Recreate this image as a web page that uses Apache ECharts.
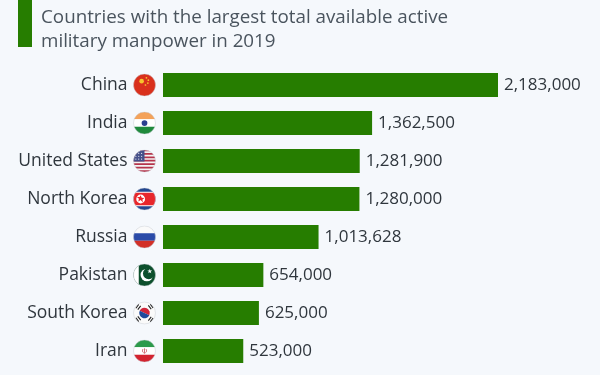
<!DOCTYPE html>
<html>
<head>
<meta charset="utf-8">
<style>
html, body { margin: 0; padding: 0; background: #f5f8fc; }
#chart { width: 600px; height: 375px; }
</style>
<script src="https://cdn.jsdelivr.net/npm/echarts@6/dist/echarts.min.js"></script>
</head>
<body>
<div id="chart"></div>
<script>
var countries = ['China', 'India', 'United States', 'North Korea', 'Russia', 'Pakistan', 'South Korea', 'Iran'];
var manpower = [2183000, 1362500, 1281900, 1280000, 1013628, 654000, 625000, 523000];
var flagKeys = ['cn', 'in', 'us', 'kp', 'ru', 'pk', 'kr', 'ir'];

var titleText = 'Countries with the largest total available active\nmilitary manpower in 2019';
var green = '#267d00';

// little round flags, used as images in the axis labels
function flagSvg(inner) {
	var svg = '<svg xmlns="http://www.w3.org/2000/svg" width="46" height="46" viewBox="0 0 24 24">' +
		'<defs><clipPath id="c"><circle cx="12" cy="12" r="11.5"/></clipPath></defs>' +
		'<g clip-path="url(#c)">' + inner + '</g>' +
		'<circle cx="12" cy="12" r="11.5" fill="none" stroke="#c9ccd2" stroke-width="0.5"/></svg>';
	return 'data:image/svg+xml;charset=utf-8,' + encodeURIComponent(svg);
}

var usStripes = '';
for (var s = 0; s < 7; s++) {
	usStripes += '<rect x="0" y="' + (s * 3.6) + '" width="24" height="1.8" fill="#b5344c"/>';
}

var flags = {
	cn: flagSvg('<rect width="24" height="24" fill="#d9301c"/><circle cx="9" cy="8" r="2.4" fill="#f7c52d"/><circle cx="14" cy="4.5" r="0.9" fill="#f7c52d"/><circle cx="16" cy="7" r="0.9" fill="#f7c52d"/><circle cx="15.5" cy="10" r="0.9" fill="#f7c52d"/><circle cx="13" cy="12" r="0.9" fill="#f7c52d"/>'),
	'in': flagSvg('<rect width="24" height="8" fill="#f4a259"/><rect y="8" width="24" height="8" fill="#fff"/><rect y="16" width="24" height="8" fill="#1f8a3c"/><circle cx="12" cy="12" r="3" fill="#2a3f8f"/>'),
	us: flagSvg('<rect width="24" height="24" fill="#f4f4f4"/>' + usStripes + '<rect width="12" height="12.5" fill="#45508a"/><g fill="#fff"><circle cx="3" cy="4" r=".6"/><circle cx="6" cy="4" r=".6"/><circle cx="9" cy="4" r=".6"/><circle cx="3" cy="7" r=".6"/><circle cx="6" cy="7" r=".6"/><circle cx="9" cy="7" r=".6"/><circle cx="3" cy="10" r=".6"/><circle cx="6" cy="10" r=".6"/><circle cx="9" cy="10" r=".6"/></g>'),
	kp: flagSvg('<rect width="24" height="24" fill="#23468f"/><rect y="4.5" width="24" height="15" fill="#fff"/><rect y="5.5" width="24" height="13" fill="#e8262b"/><circle cx="8" cy="12" r="4.6" fill="#fff"/><path d="M8 8.2l1.1 2.6 2.8.2-2.1 1.8.7 2.8L8 13.1l-2.5 1.5.7-2.8-2.1-1.8 2.8-.2z" fill="#e8262b"/>'),
	ru: flagSvg('<rect width="24" height="8" fill="#fafafa"/><rect y="8" width="24" height="8" fill="#2b4ba8"/><rect y="16" width="24" height="8" fill="#d22f27"/>'),
	pk: flagSvg('<rect width="24" height="24" fill="#0c4f2c"/><rect width="6" height="24" fill="#fff"/><circle cx="14.5" cy="12" r="6.6" fill="#fff"/><circle cx="16.4" cy="10.4" r="6" fill="#0c4f2c"/><path d="M17.5 5.4l.6 1.9 2-.1-1.6 1.2.6 1.9-1.6-1.1-1.6 1.1.6-1.9-1.6-1.2 2 .1z" fill="#fff"/>'),
	kr: flagSvg('<rect width="24" height="24" fill="#fafafa"/><path d="M6.5 12a5.5 5.5 0 0 1 11 0z" fill="#d0263a" transform="rotate(25 12 12)"/><path d="M6.5 12a5.5 5.5 0 0 0 11 0z" fill="#1f4a9c" transform="rotate(25 12 12)"/><g stroke="#222" stroke-width="1.1"><path d="M3 7l3-4M5 8.5l3-4M16 4l3 4M18 2.8l3 4M3 17l3 4M5 15.5l3 4M16 20l3-4M18 21.2l3-4"/></g>'),
	ir: flagSvg('<rect width="24" height="8" fill="#2c9a4b"/><rect y="8" width="24" height="8" fill="#fff"/><rect y="16" width="24" height="8" fill="#d3232f"/><path d="M12 9.2v5.6M10.4 10c-1 1.4-.6 3.2.8 4M13.6 10c1 1.4.6 3.2-.8 4" stroke="#c2303a" stroke-width=".7" fill="none"/>')
};

var flagRich = {
	name: { fontFamily: 'Open Sans', fontSize: 17.5, color: '#2f363d', padding: [0, 5.5, 0, 0] }
};
flagKeys.forEach(function (k) {
	flagRich[k] = { width: 23, height: 23, backgroundColor: { image: flags[k] } };
});

var chart = echarts.init(document.getElementById('chart'));
chart.setOption({
	backgroundColor: '#f5f8fc',
	animation: false,
	title: {
		show: true,
		text: titleText,
		left: 36,
		top: 1,
		textStyle: {
			fontFamily: 'Open Sans',
			fontSize: 18.8,
			fontWeight: 'normal',
			color: '#4a545e',
			lineHeight: 24
		}
	},
	graphic: [{
		type: 'rect',
		shape: { x: 18, y: 0, width: 14, height: 47 },
		style: { fill: green }
	}],
	grid: { left: 163, top: 66, width: 335, height: 304 },
	xAxis: {
		type: 'value',
		min: 0,
		max: 2183000,
		show: false
	},
	yAxis: {
		type: 'category',
		inverse: true,
		data: countries,
		axisLine: { show: false },
		axisTick: { show: false },
		axisLabel: {
			margin: 7,
			formatter: function (value, i) {
				return '{name|' + value + '}{' + flagKeys[i] + '|}';
			},
			rich: flagRich
		}
	},
	series: [{
		type: 'bar',
		name: 'manpower',
		data: manpower,
		barWidth: 24,
		itemStyle: { color: green },
		label: {
			show: true,
			position: 'right',
			distance: 6,
			fontFamily: 'Open Sans',
			fontSize: 17,
			color: '#2f363d',
			formatter: function (p) {
				return p.value.toLocaleString('en-US');
			}
		}
	}]
});
</script>
</body>
</html>
